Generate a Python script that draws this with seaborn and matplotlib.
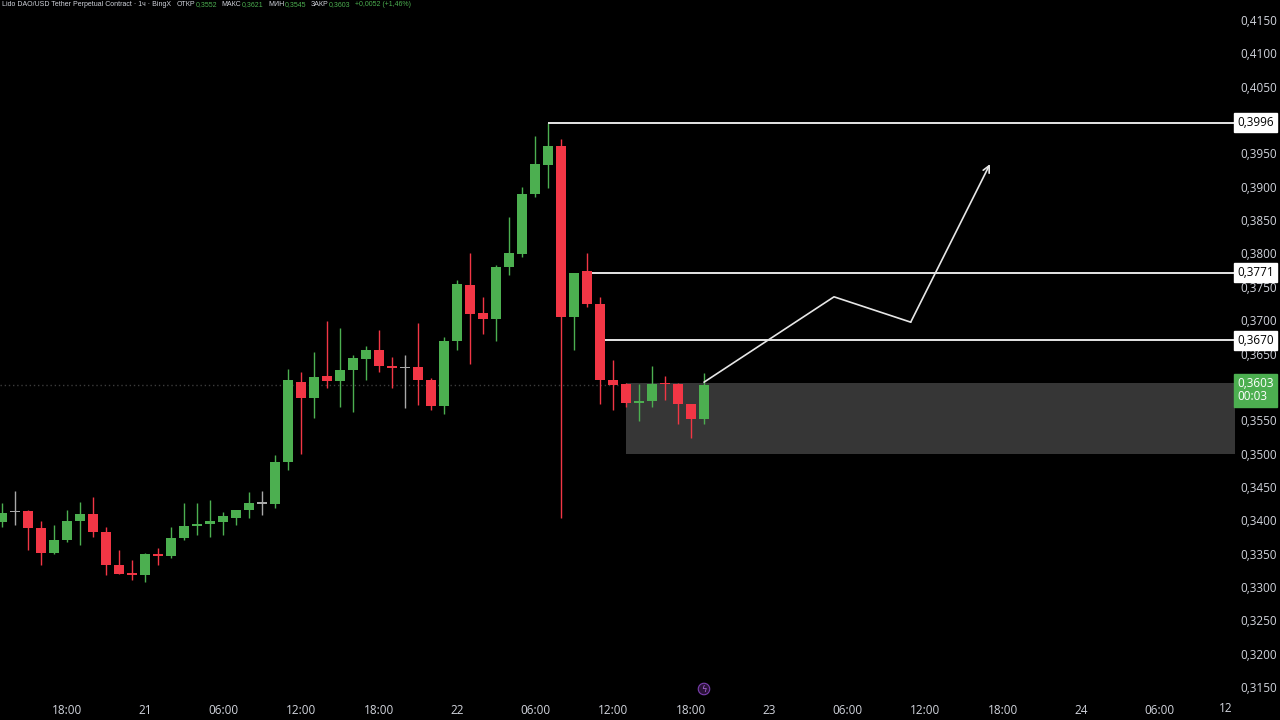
import numpy as np
import pandas as pd
import matplotlib
matplotlib.use("Agg")
import matplotlib.pyplot as plt
import seaborn as sns

# hourly candles, LDO/USDT perpetual (BingX), starting 20th 13:00
start = pd.Timestamp("2025-01-20 13:00")
opens = [0.3398, 0.3412, 0.3414, 0.3389, 0.3351, 0.3371, 0.3399, 0.3409, 0.3383, 0.3333,
         0.3321, 0.3318, 0.3349, 0.3347, 0.3373, 0.3391, 0.3394, 0.3398, 0.3404, 0.3415,
         0.3425, 0.3425, 0.3488, 0.3608, 0.3584, 0.3616, 0.3609, 0.3625, 0.3642, 0.3656,
         0.3632, 0.3628, 0.3630, 0.3610, 0.3571, 0.3668, 0.3753, 0.3711, 0.3702, 0.3779,
         0.3799, 0.3889, 0.3932, 0.3961, 0.3705, 0.3773, 0.3724, 0.3611, 0.3604, 0.3576,
         0.3579, 0.3606, 0.3604, 0.3575, 0.3552]
highs = [0.3426, 0.3444, 0.3416, 0.3399, 0.3393, 0.3415, 0.3428, 0.3435, 0.3390, 0.3355,
         0.3340, 0.3351, 0.3358, 0.3390, 0.3426, 0.3426, 0.3430, 0.3413, 0.3416, 0.3443,
         0.3444, 0.3498, 0.3627, 0.3623, 0.3653, 0.3699, 0.3688, 0.3648, 0.3661, 0.3685,
         0.3645, 0.3648, 0.3695, 0.3613, 0.3675, 0.3760, 0.3800, 0.3735, 0.3782, 0.3854,
         0.3899, 0.3976, 0.3996, 0.3971, 0.3771, 0.3801, 0.3735, 0.3640, 0.3606, 0.3605,
         0.3631, 0.3616, 0.3606, 0.3575, 0.3621]
lows = [0.3390, 0.3393, 0.3355, 0.3333, 0.3350, 0.3368, 0.3363, 0.3375, 0.3318, 0.3319,
        0.3310, 0.3308, 0.3333, 0.3343, 0.3370, 0.3378, 0.3375, 0.3378, 0.3393, 0.3403,
        0.3408, 0.3418, 0.3475, 0.3500, 0.3553, 0.3598, 0.3570, 0.3562, 0.3610, 0.3623,
        0.3599, 0.3569, 0.3573, 0.3565, 0.3560, 0.3655, 0.3635, 0.3679, 0.3668, 0.3768,
        0.3795, 0.3884, 0.3898, 0.3403, 0.3655, 0.3719, 0.3575, 0.3565, 0.3570, 0.3549,
        0.3570, 0.3581, 0.3545, 0.3523, 0.3545]
closes = [0.3411, 0.3412, 0.3389, 0.3351, 0.3370, 0.3399, 0.3409, 0.3382, 0.3333, 0.3320,
          0.3318, 0.3349, 0.3347, 0.3374, 0.3391, 0.3395, 0.3399, 0.3406, 0.3415, 0.3426,
          0.3425, 0.3488, 0.3610, 0.3584, 0.3615, 0.3609, 0.3625, 0.3643, 0.3656, 0.3631,
          0.3629, 0.3628, 0.3610, 0.3571, 0.3668, 0.3754, 0.3709, 0.3702, 0.3780, 0.3801,
          0.3889, 0.3934, 0.3961, 0.3704, 0.3770, 0.3724, 0.3610, 0.3603, 0.3576, 0.3579,
          0.3604, 0.3604, 0.3574, 0.3552, 0.3603]

levels = [0.3996, 0.3771, 0.3670]
level_from = ["2025-01-22 07:00", "2025-01-22 10:24", "2025-01-22 11:24"]
zone_low, zone_high = 0.3500, 0.3606
zone_from = "2025-01-22 13:00"
path_times = ["2025-01-22 19:00", "2025-01-23 05:00", "2025-01-23 10:54", "2025-01-23 17:00"]
path_prices = [0.3607, 0.3735, 0.3697, 0.3934]
last_price = 0.3603
change, change_pct = "+0,0052", "+1,46%"

GREEN = "#4caf50"
RED = "#f23645"
DOJI = "#a8a8a8"
TXT = "#d1d4dc"

t0 = pd.Timestamp("2025-01-21 00:00")
times = pd.date_range(start, periods=len(opens), freq="h")
df = pd.DataFrame({"time": times, "open": opens, "high": highs, "low": lows, "close": closes})
df["h"] = (df["time"] - t0) / pd.Timedelta(hours=1)
df["col"] = np.where(df["close"] > df["open"], GREEN,
                     np.where(df["close"] < df["open"], RED, DOJI))


def hrs(s):
    return (pd.Timestamp(s) - t0) / pd.Timedelta(hours=1)


def fmt(v):
    return f"{v:.4f}".replace(".", ",")


sns.set_theme(style="dark", rc={"axes.facecolor": "black", "figure.facecolor": "black"})
plt.rcParams["font.family"] = ["Open Sans", "DejaVu Sans"]

fig = plt.figure(figsize=(12.8, 7.2), dpi=100)
ax = fig.add_axes([0, 23 / 720, 1234 / 1280, 697 / 720])
ax.set_facecolor("black")
for s in ax.spines.values():
    s.set_visible(False)
ax.grid(False)

ax.set_xlim(-145 / 13, 1089 / 13)
ax.set_ylim(0.3135, 0.4180)

# current price dotted line
ax.axhline(last_price, color="#3c3c3c", lw=1, ls=(0, (1, 2)), zorder=1)

# zone
ax.fill_between([hrs(zone_from), 90], zone_low, zone_high, color="#363636", lw=0, zorder=1)

# candles
ax.vlines(df["h"], df["low"], df["high"], colors=df["col"], lw=1, zorder=3)
body = np.maximum((df["close"] - df["open"]).abs(), 0.00018)
ax.bar(df["h"], body, bottom=np.minimum(df["open"], df["close"]), width=0.76,
       color=df["col"], lw=0, zorder=4)

# horizontal levels
for lv, st in zip(levels, level_from):
    ax.hlines(lv, hrs(st), 90, color="#e6e6e6", lw=1.4, zorder=5)

# projected path
px = [hrs(t) for t in path_times]
sns.lineplot(x=px[:-1], y=path_prices[:-1], sort=False, color="#e6e6e6", lw=1.2, ax=ax, zorder=6)
ax.annotate("", xy=(px[-1], path_prices[-1]), xytext=(px[-2], path_prices[-2]),
            arrowprops=dict(arrowstyle="->", color="#e6e6e6", lw=1.2,
                            mutation_scale=12, shrinkA=0, shrinkB=0), zorder=6)

# axes ticks
yt = np.arange(0.3150, 0.41501, 0.005)
yt = [v for v in yt if abs(v - 0.4) > 1e-6 and abs(v - 0.36) > 1e-6]
ax.yaxis.tick_right()
ax.set_yticks(yt)
ax.set_yticklabels([fmt(v) for v in yt])
xt = np.arange(-6, 79, 6)
xl = []
for h in xt:
    day = 21 + int(h // 24)
    hh = int(h % 24)
    xl.append(str(day) if hh == 0 else f"{hh:02d}:00")
ax.set_xticks(xt)
ax.set_xticklabels(xl)
ax.tick_params(axis="y", length=0, pad=4.5, labelsize=8.5, labelcolor=TXT)
ax.tick_params(axis="x", length=0, pad=5, labelsize=8.5, labelcolor=TXT)
fig.text(1226 / 1280, 11 / 720, "12", color=TXT, fontsize=8.5, ha="center", va="center")

# price labels on the scale
for lv in levels:
    ax.text(1.0025, lv, fmt(lv), transform=ax.get_yaxis_transform(),
            ha="left", va="center", fontsize=8.5, color="black", zorder=10, clip_on=False,
            bbox=dict(boxstyle="square,pad=0.25", fc="white", ec="white"))
ax.text(1.0025, last_price - 0.0008, fmt(last_price) + "\n00:03",
        transform=ax.get_yaxis_transform(), ha="left", va="center", fontsize=8.5,
        color="white", linespacing=1.0, zorder=10, clip_on=False,
        bbox=dict(boxstyle="square,pad=0.3", fc=GREEN, ec=GREEN))

# header, laid out piece by piece
hy = 1 - 5 / 720
hf = dict(fontsize=5.0, va="center", family=["Liberation Sans", "DejaVu Sans"])
parts = [("Lido DAO/USD Tether Perpetual Contract · 1ч · BingX", TXT, 0),
         ("ОТКР", TXT, 5), (fmt(opens[-1]), GREEN, 0),
         ("МАКС", TXT, 4), (fmt(highs[-1]), GREEN, 0),
         ("МИН", TXT, 4), (fmt(lows[-1]), GREEN, 0),
         ("ЗАКР", TXT, 4), (fmt(closes[-1]), GREEN, 0),
         (f"{change} ({change_pct})", GREEN, 4)]
renderer = fig.canvas.get_renderer()
xc = 2
for txt, c, gap in parts:
    xc += gap
    t = fig.text(xc / 1280, hy, txt, color=c, **hf)
    xc += t.get_window_extent(renderer).width + 0.5

# small event marker
fig.text(704 / 1280, 1 - 689 / 720, "ϟ", color="#b06ae0", fontsize=6, ha="center", va="center",
         family="DejaVu Sans",
         bbox=dict(boxstyle="circle,pad=0.15", fc="#2a1238", ec="#7b3fb0", lw=0.8))

fig.savefig("out.png", dpi=100, facecolor="black")
